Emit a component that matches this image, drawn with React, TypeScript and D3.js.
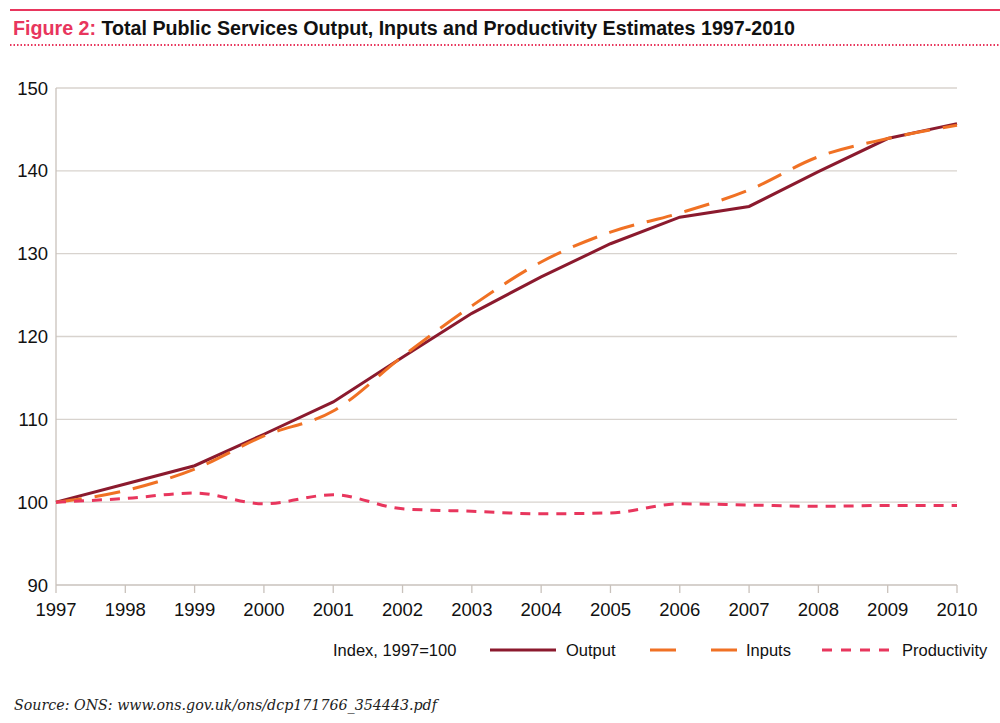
import * as d3 from 'd3';

// Values (index, 1997 = 100)
const years = [1997, 1998, 1999, 2000, 2001, 2002, 2003, 2004, 2005, 2006, 2007, 2008, 2009, 2010];
const output = [100, 102.2, 104.4, 108.2, 112.1, 117.5, 122.8, 127.2, 131.2, 134.4, 135.7, 139.9, 143.9, 145.7];
const inputs = [100, 101.4, 104.0, 108.0, 111.0, 117.6, 123.7, 129.0, 132.6, 134.9, 137.7, 141.7, 143.9, 145.5];
const productivity = [100, 100.45, 101.1, 99.8, 100.9, 99.2, 98.9, 98.6, 98.7, 99.8, 99.65, 99.5, 99.6, 99.6];
const yTicks = [90, 100, 110, 120, 130, 140, 150];

const W = 1000;
const H = 723;
const margin = { left: 56, right: 43, top: 88, bottom: 138 };

const PINK = '#e8365d';
const font = '"Liberation Sans", Arial, sans-serif';

export default function App() {
  const x = d3.scaleLinear().domain([1997, 2010]).range([margin.left, W - margin.right]);
  const y = d3.scaleLinear().domain([90, 150]).range([H - margin.bottom, margin.top]);
  const x0 = x.range()[0];
  const x1 = x.range()[1];
  const yBase = y(90);

  const linear = d3.line<number>().x((_, i) => x(years[i])).y((d) => y(d));
  const smooth = d3
    .line<number>()
    .x((_, i) => x(years[i]))
    .y((d) => y(d))
    .curve(d3.curveMonotoneX);

  const series = [
    { name: 'Output', values: output, color: '#8b1a2e', dash: 'none', gen: linear },
    { name: 'Inputs', values: inputs, color: '#f07124', dash: '26,13', gen: smooth },
    { name: 'Productivity', values: productivity, color: PINK, dash: '10,8', gen: smooth },
  ];

  return (
    <div style={{ position: 'absolute', left: 0, top: 0 }}>
      <svg width={W} height={H} style={{ display: 'block', background: '#fff' }}>
        {/* header rules */}
        <line x1={10} x2={W} y1={10} y2={10} stroke={PINK} strokeWidth={2} />
        <line x1={10} x2={W} y1={45} y2={45} stroke={PINK} strokeWidth={2} strokeDasharray="1.5,2" />
        <text
          x={13}
          y={35}
          fontFamily={'"Liberation Sans Narrow", "Liberation Sans", Arial, sans-serif'}
          fontWeight="bold"
          fontSize={20}
          textLength={782}
          lengthAdjust="spacingAndGlyphs"
        >
          <tspan fill={PINK}>Figure 2:</tspan>
          <tspan fill="#111"> Total Public Services Output, Inputs and Productivity Estimates 1997-2010</tspan>
        </text>

        {/* grid */}
        {yTicks.map((t) => (
          <g key={t}>
            {t !== 90 && (
              <line x1={x0} x2={x1} y1={y(t)} y2={y(t)} stroke="#d8d3ce" strokeWidth={1.3} />
            )}
            <text
              x={48}
              y={y(t) + 6.5}
              textAnchor="end"
              fontFamily={font}
              fontSize={18.5}
              fill="#111"
            >
              {t}
            </text>
          </g>
        ))}

        {/* axes */}
        <line x1={x0} x2={x0} y1={y(150)} y2={yBase} stroke="#c9c2bc" strokeWidth={1.3} />
        <line x1={x0} x2={x1} y1={yBase} y2={yBase} stroke="#c9c2bc" strokeWidth={1.3} />
        {years.map((yr) => (
          <g key={yr}>
            <line x1={x(yr)} x2={x(yr)} y1={yBase} y2={yBase + 8} stroke="#c9c2bc" strokeWidth={1.3} />
            <text
              x={x(yr)}
              y={yBase + 31}
              textAnchor="middle"
              fontFamily={font}
              fontSize={18.5}
              fill="#111"
            >
              {yr}
            </text>
          </g>
        ))}

        {/* series */}
        {series.map((s) => (
          <path
            key={s.name}
            d={s.gen(s.values) || ''}
            fill="none"
            stroke={s.color}
            strokeWidth={3}
            strokeDasharray={s.dash}
          />
        ))}

        {/* legend */}
        <g fontFamily={font} fontSize={16.5} fill="#111">
          <text x={333} y={656}>Index, 1997=100</text>
          <line x1={490} x2={556} y1={650} y2={650} stroke={series[0].color} strokeWidth={3} />
          <text x={566} y={656}>Output</text>
          <line x1={650} x2={740} y1={650} y2={650} stroke={series[1].color} strokeWidth={3} strokeDasharray="26,35" />
          <text x={746} y={656}>Inputs</text>
          <line x1={822} x2={892} y1={650} y2={650} stroke={series[2].color} strokeWidth={3} strokeDasharray="10,9" />
          <text x={902} y={656}>Productivity</text>
        </g>

        {/* source */}
        <text
          x={14}
          y={710}
          fontFamily={'"DejaVu Serif", "Liberation Serif", serif'}
          fontStyle="italic"
          fontSize={15}
          fill="#222"
          textLength={423}
          lengthAdjust="spacingAndGlyphs"
        >
          Source: ONS: www.ons.gov.uk/ons/dcp171766_354443.pdf
        </text>
      </svg>
    </div>
  );
}
